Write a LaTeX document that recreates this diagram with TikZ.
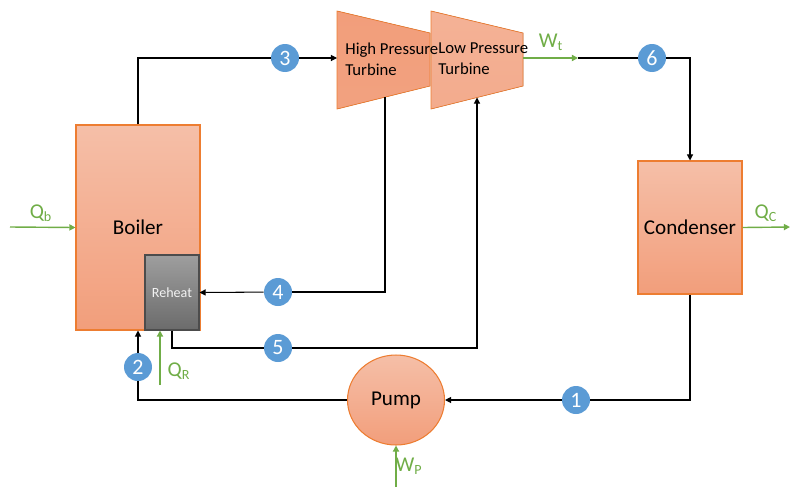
\documentclass[tikz,border=0pt]{standalone}
\usepackage{fontspec}
\setmainfont{Carlito}
\usetikzlibrary{arrows.meta,shapes.geometric}

\definecolor{unitedge}{HTML}{ED7D31}
\definecolor{unittop}{HTML}{F5BFA8}
\definecolor{unitbot}{HTML}{F29E7B}
\definecolor{statefill}{HTML}{5B9BD5}
\definecolor{heatgreen}{HTML}{70AD47}

\begin{document}
\begin{tikzpicture}[
  x=0.02cm, y=-0.02cm,
  unit/.style={draw=unitedge, line width=0.6pt, top color=unittop, bottom color=unitbot, font=\fontsize{12}{14}\selectfont},
  reheatbox/.style={draw=black!70, line width=0.6pt, top color=black!38, bottom color=black!58, text=black!5, font=\fontsize{8}{10}\selectfont, minimum width=1.08cm, minimum height=1.5cm},
  state/.style={circle, fill=statefill, text=white, minimum size=0.56cm, inner sep=0pt, font=\fontsize{12.5}{14}\selectfont},
  flow/.style={line width=0.6pt, black},
  arr/.style={flow, -{Triangle[length=3.5pt, width=3.5pt]}},
  heat/.style={line width=0.8pt, heatgreen, -{Triangle[length=3.5pt, width=3.5pt]}},
  heatlabel/.style={text=heatgreen, font=\fontsize{12}{14}\selectfont, inner sep=0pt}
]
\useasboundingbox (0,0) rectangle (790,487);

% equipment
\node[unit, minimum width=2.48cm, minimum height=4.1cm] (boiler) at (138,227.5) {Boiler};
\node[reheatbox] (reheat) at (172,292.5) {Reheat};
\node[unit, minimum width=2.08cm, minimum height=2.66cm] (condenser) at (690,227.5) {Condenser};
\node[unit, ellipse, minimum width=1.94cm, minimum height=1.8cm] (pump) at (396,400) {Pump};

% turbines
\fill[top color=unitbot, bottom color=unitbot!90!unittop, draw=unitedge, line width=0.4pt]
  (337,11) -- (430,33) -- (430,86) -- (337,109) -- cycle;
\fill[top color=unittop!60!unitbot, bottom color=unittop!40!unitbot, draw=unitedge, line width=0.4pt]
  (431,11) -- (523,33) -- (523,86) -- (431,109) -- cycle;
\node[anchor=west, align=left, inner sep=0pt, font=\fontsize{9.5}{12}\selectfont] (hp) at (345,59) {High Pressure\\Turbine};
\node[anchor=west, align=left, inner sep=0pt, font=\fontsize{9.5}{12}\selectfont] (lp) at (438,59) {Low Pressure\\Turbine};
\coordinate (hpin) at (337,58);
\coordinate (hpout) at (385,97);
\coordinate (lpin) at (477,97.5);
\coordinate (lpout) at (523,58);
\coordinate (wt) at (578,58);

% state points
\node[state] (n1) at (576,400) {1};
\node[state] (n2) at (138,367) {2};
\node[state] (n3) at (285,58) {3};
\node[state] (n4) at (278,292) {4};
\node[state] (n5) at (278,348) {5};
\node[state] (n6) at (652,58) {6};

% cycle
\draw[flow] (boiler.north) |- (n3);
\draw[arr] (n3) -- (hpin);
\draw[flow] (hpout) |- (n4);
\draw[arr] (n4) -- (reheat.east);
\draw[flow] (reheat.south) |- (n5);
\draw[arr] (n5) -| (lpin);
\draw[heat] (lpout) -- (wt);
\draw[flow] (wt) -- (n6);
\draw[arr] (n6) -| (condenser.north);
\draw[flow] (condenser.south) |- (n1);
\draw[arr] (n1) -- (pump.east);
\draw[flow] (pump.west) -| (n2);
\draw[arr] (n2) -- (boiler.south);

% heat and work
\coordinate (qb) at (10,227);
\coordinate (qr) at (160,385);
\coordinate (qc) at (790,227);
\coordinate (wp) at (396,487);
\draw[heat] (qb) -- (boiler.west);
\draw[heat] (qr) -- (qr |- reheat.south);
\draw[heat] (condenser.east) -- (qc);
\draw[heat] (wp) -- (pump.south);
\node[heatlabel] (qbl) at (41,213) {Q\textsubscript{b}};
\node[heatlabel] (qrl) at (179,371) {Q\textsubscript{R}};
\node[heatlabel] (qcl) at (766,213) {Q\textsubscript{C}};
\node[heatlabel] (wpl) at (409,466) {W\textsubscript{P}};
\node[heatlabel] (wtl) at (551,42) {W\textsubscript{t}};
\end{tikzpicture}
\end{document}
